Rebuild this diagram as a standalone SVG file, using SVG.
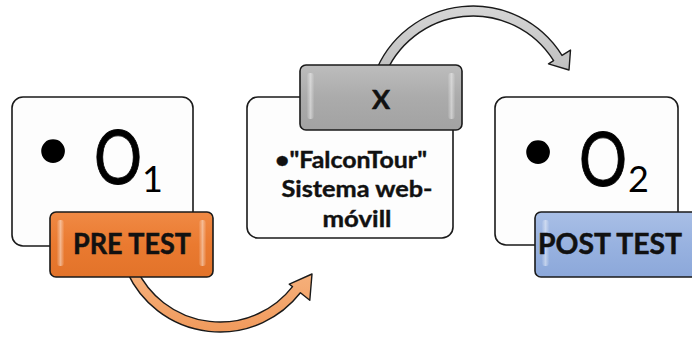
<svg xmlns="http://www.w3.org/2000/svg" width="692" height="337" viewBox="0 0 692 337">
  <style>
    .box { fill: #fdfdfd; stroke: #1a1a1a; stroke-width: 1.6; }
    .lbl { stroke: #1a1a1a; stroke-width: 1.6; }
    .hl { fill: url(#hl); }
    .arrow { stroke: #1a1a1a; stroke-width: 1.4; stroke-linejoin: round; }
    .big { font-family: Lato, "Open Sans", "Liberation Sans", sans-serif; fill: #000; }
    .o { stroke: #000; stroke-width: 0.9; }
    .lbltxt { font-family: Lato, "Open Sans", "Liberation Sans", sans-serif; font-weight: bold; fill: #111; stroke: #111; stroke-width: 0.5; text-anchor: middle; }
    .mid { font-family: Lato, "Open Sans", "Liberation Sans", sans-serif; font-weight: bold; font-size: 22px; fill: #111; stroke: #111; stroke-width: 0.4; text-anchor: middle; }
  </style>
  <defs>
    <linearGradient id="orange" x1="0" y1="0" x2="0" y2="1">
      <stop offset="0" stop-color="#F08A45"/>
      <stop offset="0.5" stop-color="#EA7A30"/>
      <stop offset="1" stop-color="#E2732A"/>
    </linearGradient>
    <linearGradient id="blue" x1="0" y1="0" x2="0" y2="1">
      <stop offset="0" stop-color="#A9BFE6"/>
      <stop offset="0.5" stop-color="#98B2E0"/>
      <stop offset="1" stop-color="#8CA8DA"/>
    </linearGradient>
    <linearGradient id="gray" x1="0" y1="0" x2="0" y2="1">
      <stop offset="0" stop-color="#BDBDBD"/>
      <stop offset="0.5" stop-color="#ABABAB"/>
      <stop offset="1" stop-color="#A2A2A2"/>
    </linearGradient>
    <linearGradient id="hl" x1="0" y1="0" x2="1" y2="0">
      <stop offset="0" stop-color="#ffffff" stop-opacity="0.05"/>
      <stop offset="0.5" stop-color="#ffffff" stop-opacity="0.45"/>
      <stop offset="1" stop-color="#ffffff" stop-opacity="0.05"/>
    </linearGradient>
    <linearGradient id="oarrow" x1="0" y1="0" x2="0" y2="1">
      <stop offset="0" stop-color="#F6B27E"/>
      <stop offset="1" stop-color="#F09A5C"/>
    </linearGradient>
    <linearGradient id="garrow" x1="0" y1="0" x2="0" y2="1">
      <stop offset="0" stop-color="#D6D6D6"/>
      <stop offset="1" stop-color="#BDBDBD"/>
    </linearGradient>
  </defs>

  <g id="node-o1">
    <rect class="box" x="12" y="97" width="181" height="149" rx="11"/>
    <text class="big" x="53" y="170" font-size="64" text-anchor="middle">•</text>
    <text class="big o" font-size="75" transform="translate(94,184) scale(0.8,1)">O</text>
    <text class="big" x="142" y="192" font-size="36">1</text>
  </g>

  <g id="node-treatment">
    <rect class="box" x="247" y="97" width="206" height="141" rx="11"/>
    <text class="mid" x="351" y="168" textLength="152" lengthAdjust="spacingAndGlyphs">•"FalconTour"</text>
    <text class="mid" x="357" y="197" textLength="151" lengthAdjust="spacingAndGlyphs">Sistema web-</text>
    <text class="mid" x="357" y="227" textLength="69" lengthAdjust="spacingAndGlyphs">móvill</text>
  </g>

  <g id="node-o2">
    <rect class="box" x="495" y="97" width="183" height="148" rx="11"/>
    <text class="big" x="538" y="171" font-size="64" text-anchor="middle">•</text>
    <text class="big o" font-size="75" transform="translate(579,186) scale(0.8,1)">O</text>
    <text class="big" x="628" y="192" font-size="36">2</text>
  </g>

  <g id="connectors">
    <path id="arrow-pre" class="arrow" fill="url(#oarrow)" d="M127.6,273.1 A102,102 0 0 0 300.4,292.8 L309.8,300.2 L312,274 L289.3,284.2 L292.5,286.6 A92,92 0 0 1 136.6,268.9 Z"/>
    <path id="arrow-x" class="arrow" fill="url(#garrow)" d="M374.3,75.1 A105,105 0 0 1 562.0,55.4 L570.5,50.1 L569,70 L548.5,63.8 L553.6,60.7 A95,95 0 0 0 383.7,78.5 Z"/>
  </g>

  <g id="label-pretest">
    <rect class="lbl" x="50" y="212" width="163" height="65" rx="6" fill="url(#orange)"/>
    <rect class="hl" x="57" y="220" width="7" height="46" rx="3"/>
    <rect class="hl" x="199" y="220" width="7" height="46" rx="3"/>
    <text class="lbltxt" x="132" y="254" font-size="29" textLength="118" lengthAdjust="spacingAndGlyphs">PRE TEST</text>
  </g>

  <g id="label-x">
    <rect class="lbl" x="300" y="65" width="162" height="65" rx="6" fill="url(#gray)"/>
    <rect class="hl" x="307" y="73" width="7" height="46" rx="3"/>
    <rect class="hl" x="448" y="73" width="7" height="46" rx="3"/>
    <text class="lbltxt" x="381" y="109" font-size="27">X</text>
  </g>

  <g id="label-posttest">
    <rect class="lbl" x="535" y="212" width="165" height="65" rx="6" fill="url(#blue)"/>
    <rect class="hl" x="542" y="220" width="7" height="46" rx="3"/>
    <text class="lbltxt" x="610" y="254" font-size="29" textLength="144" lengthAdjust="spacingAndGlyphs">POST TEST</text>
  </g>
</svg>
